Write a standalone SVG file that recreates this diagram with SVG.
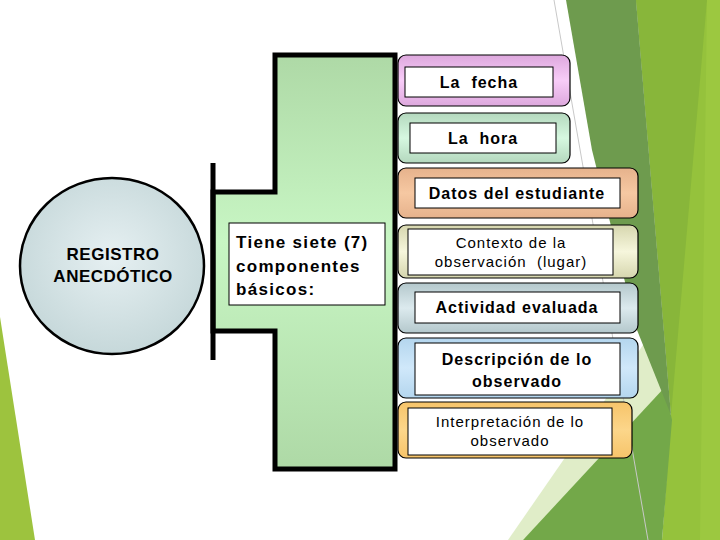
<svg xmlns="http://www.w3.org/2000/svg" width="720" height="540" viewBox="0 0 720 540">
<defs>
<style>
.lb{font-family:"Liberation Sans",Arial,sans-serif;font-weight:bold;font-size:16px;letter-spacing:1px;fill:#000;text-anchor:middle;white-space:pre}
.lr{font-family:"Liberation Sans",Arial,sans-serif;font-size:15px;letter-spacing:1px;fill:#000;text-anchor:middle;white-space:pre}
.lc{font-family:"Liberation Sans",Arial,sans-serif;font-weight:bold;font-size:17px;letter-spacing:1.3px;fill:#000}
.outer{stroke:#000;stroke-width:1.2}
.inner{fill:#fff;stroke:#000;stroke-width:1}
</style>
<linearGradient id="gPink" x1="0" y1="0" x2="0" y2="1"><stop offset="0" stop-color="#DDA8DD"/><stop offset="0.5" stop-color="#F8CCF8"/><stop offset="1" stop-color="#DDA8DD"/></linearGradient>
<linearGradient id="gMint" x1="0" y1="0" x2="0" y2="1"><stop offset="0" stop-color="#B4D8BE"/><stop offset="0.5" stop-color="#D6F8E0"/><stop offset="1" stop-color="#B4D8BE"/></linearGradient>
<linearGradient id="gPeach" x1="0" y1="0" x2="0" y2="1"><stop offset="0" stop-color="#E6B28C"/><stop offset="0.5" stop-color="#F6C8A2"/><stop offset="1" stop-color="#E6B28C"/></linearGradient>
<linearGradient id="gCream" x1="0" y1="0" x2="0" y2="1"><stop offset="0" stop-color="#D6D6AE"/><stop offset="0.5" stop-color="#F6F6DC"/><stop offset="1" stop-color="#D6D6AE"/></linearGradient>
<linearGradient id="gSlate" x1="0" y1="0" x2="0" y2="1"><stop offset="0" stop-color="#B4C8CC"/><stop offset="0.5" stop-color="#DCEAEE"/><stop offset="1" stop-color="#B4C8CC"/></linearGradient>
<linearGradient id="gBlue" x1="0" y1="0" x2="0" y2="1"><stop offset="0" stop-color="#B4D6EE"/><stop offset="0.5" stop-color="#D0E8FA"/><stop offset="1" stop-color="#B4D6EE"/></linearGradient>
<linearGradient id="gOrange" x1="0" y1="0" x2="0" y2="1"><stop offset="0" stop-color="#F6C46A"/><stop offset="0.5" stop-color="#FCD68A"/><stop offset="1" stop-color="#F6C46A"/></linearGradient>
<linearGradient id="gGreen" x1="0" y1="0" x2="0" y2="1"><stop offset="0" stop-color="#AED9A6"/><stop offset="0.45" stop-color="#C8F6C4"/><stop offset="1" stop-color="#AED9A6"/></linearGradient>
<radialGradient id="gCircle" cx="0.5" cy="0.45" r="0.55"><stop offset="0" stop-color="#E6F0F2"/><stop offset="1" stop-color="#C6D8DA"/></radialGradient>
</defs>
<rect width="720" height="540" fill="#fff"/>
<g id="background">
<polygon points="636,0 720,0 720,540 662,540 671,415" fill="#95C23C"/>
<polygon points="636,0 707,0 671,415" fill="#88B63A"/>
<polygon points="707,0 720,0 720,540 700,540" fill="#9CC840"/>
<polygon points="508,540 652,332 668,400 523,540" fill="#E0EDC8"/>
<polygon points="523,540 665,387 672,420 662,540" fill="#73A849"/>
<polygon points="566,0 636,0 671,415 637,330 592,150" fill="#6E9B4E"/>
<line x1="554" y1="0" x2="648" y2="540" stroke="#C8C8C8" stroke-width="1"/>
<polygon points="0,317 35,540 0,540" fill="#9DC33E"/>
</g>
<g id="registro">
<ellipse cx="112" cy="266" rx="92" ry="88" fill="url(#gCircle)" stroke="#000" stroke-width="2.5"/>
<text class="lb" style="font-size:17px;letter-spacing:0.5px" x="113" y="260">REGISTRO</text>
<text class="lb" style="font-size:17px;letter-spacing:0.5px" x="113" y="282">ANECDÓTICO</text>
</g>
<g id="fecha">
<rect class="outer" x="398" y="55" width="172" height="51" rx="8" fill="url(#gPink)"/>
<rect class="inner" x="405" y="67" width="148" height="30"/>
<text class="lb" x="479" y="88">La  fecha</text>
</g>
<g id="hora">
<rect class="outer" x="398" y="113" width="172" height="50" rx="8" fill="url(#gMint)"/>
<rect class="inner" x="410" y="123" width="146" height="30"/>
<text class="lb" x="483" y="144">La  hora</text>
</g>
<g id="datos">
<rect class="outer" x="398" y="168" width="240" height="50" rx="8" fill="url(#gPeach)"/>
<rect class="inner" x="415" y="178" width="205" height="30"/>
<text class="lb" x="517" y="199">Datos del estudiante</text>
</g>
<g id="contexto">
<rect class="outer" x="398" y="225" width="240" height="53" rx="8" fill="url(#gCream)"/>
<rect class="inner" x="408" y="229" width="205" height="46"/>
<text class="lr" x="511" y="248">Contexto de la</text>
<text class="lr" x="511" y="267">observación  (lugar)</text>
</g>
<g id="actividad">
<rect class="outer" x="398" y="283" width="240" height="50" rx="8" fill="url(#gSlate)"/>
<rect class="inner" x="415" y="292" width="205" height="31"/>
<text class="lb" x="517" y="313">Actividad evaluada</text>
</g>
<g id="descripcion">
<rect class="outer" x="398" y="338" width="240" height="60" rx="8" fill="url(#gBlue)"/>
<rect class="inner" x="415" y="343" width="205" height="52"/>
<text class="lb" x="517" y="365">Descripción de lo</text>
<text class="lb" x="517" y="387">observado</text>
</g>
<g id="interpretacion">
<rect class="outer" x="398" y="402" width="234" height="56" rx="8" fill="url(#gOrange)"/>
<rect class="inner" x="408" y="408" width="204" height="47"/>
<text class="lr" x="510" y="427">Interpretación de lo</text>
<text class="lr" x="510" y="446">observado</text>
</g>
<g id="connectors">
<polygon points="213,192 275,192 275,55 395,55 395,469 275,469 275,331 213,331" fill="url(#gGreen)" stroke="#000" stroke-width="5" stroke-linejoin="miter"/>
<line x1="213" y1="163" x2="213" y2="360" stroke="#000" stroke-width="5"/>
</g>
<g id="componentes">
<rect class="inner" x="229" y="223" width="156" height="82"/>
<text class="lc" x="236" y="248">Tiene siete (7)</text>
<text class="lc" x="236" y="272">componentes</text>
<text class="lc" x="236" y="295">básicos:</text>
</g>
</svg>
